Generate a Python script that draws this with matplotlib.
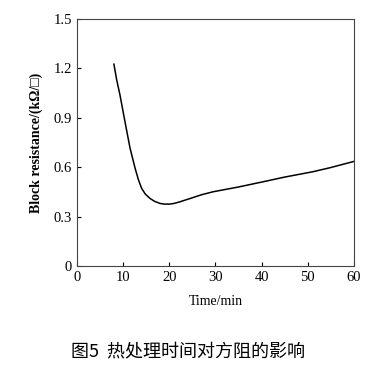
import matplotlib
matplotlib.use("Agg")
import matplotlib.pyplot as plt

time_min = [8, 8.6, 9.3, 10.4, 11.5, 12.6, 13.3, 14, 14.8, 15.8, 16.8, 18, 19, 20, 21, 22.3, 24.5, 27,
            29.5, 35, 40.4, 45, 51.2, 55, 60]
resistance = [1.225, 1.13, 1.04, 0.876, 0.715, 0.593, 0.525, 0.472, 0.437, 0.411, 0.393, 0.38, 0.376,
              0.376, 0.38, 0.39, 0.41, 0.433, 0.451, 0.48, 0.512, 0.54, 0.573, 0.598, 0.635]
xticks = [0, 10, 20, 30, 40, 50, 60]
yticks = [0, 0.3, 0.6, 0.9, 1.2, 1.5]
ytick_labels = ["0", "0.3", "0.6", "0.9", "1.2", "1.5"]

plt.rcParams['font.family'] = ['Liberation Serif', 'DejaVu Serif']

fig = plt.figure(figsize=(3.83, 3.84), dpi=100)
ax = fig.add_axes([0.201, 0.307, 0.723, 0.644])
ax.plot(time_min, resistance, color='black', lw=1.1)
ax.set_xlim(0, 60)
ax.set_ylim(0, 1.5)
ax.set_xticks(xticks)
ax.set_yticks(yticks)
ax.set_yticklabels(ytick_labels)
ax.tick_params(direction='in', length=3, width=0.8, labelsize=10.5, top=False, right=False)
for s in ax.spines.values():
    s.set_linewidth(0.8)
    s.set_color('#444444')
ax.set_xlabel('Time/min', fontsize=10, labelpad=8)
ax.set_ylabel('Block resistance/(kΩ/□)', fontsize=10, labelpad=8, fontweight='semibold',
              family=['Liberation Serif', 'DejaVu Sans'])

fig.text(0.49, 0.083, '图5  热处理时间对方阻的影响', ha='center', va='center', fontsize=13,
         family=['Noto Sans CJK SC', 'DejaVu Sans'])

fig.savefig('out.png', dpi=100)
